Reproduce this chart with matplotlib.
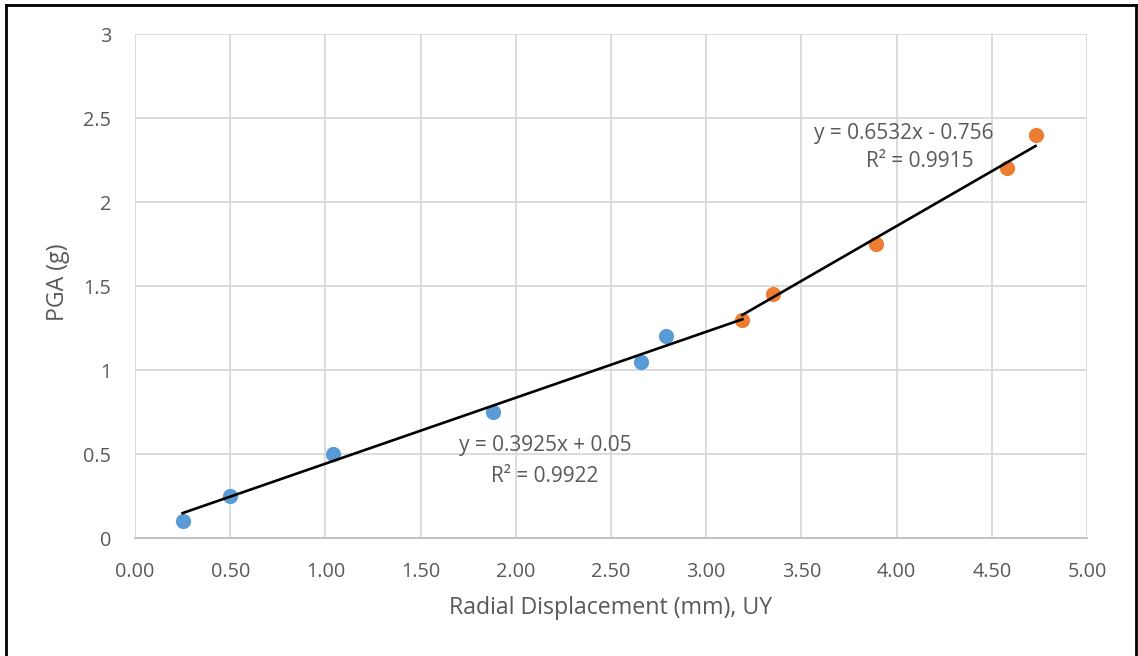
import matplotlib
matplotlib.use("Agg")
import matplotlib.pyplot as plt
import numpy as np
from matplotlib.lines import Line2D

# Data
x_blue = [0.25, 0.50, 1.04, 1.88, 2.66, 2.79]
y_blue = [0.10, 0.25, 0.50, 0.75, 1.05, 1.20]
x_orange = [3.19, 3.35, 3.89, 4.58, 4.73]
y_orange = [1.30, 1.45, 1.75, 2.20, 2.40]

# Trendline coefficients (from chart labels)
fit1_slope, fit1_icpt, fit1_r2 = 0.3925, 0.05, 0.9922
fit2_slope, fit2_icpt, fit2_r2 = 0.6532, -0.756, 0.9915
fit1_range = [0.25, 3.19]
fit2_range = [3.19, 4.73]

x_ticks = [0.0, 0.5, 1.0, 1.5, 2.0, 2.5, 3.0, 3.5, 4.0, 4.5, 5.0]
y_ticks = [0, 0.5, 1, 1.5, 2, 2.5, 3]
y_ticklabels = ["0", "0.5", "1", "1.5", "2", "2.5", "3"]

plt.rcParams['font.family'] = ['Open Sans', 'DejaVu Sans']
text_color = '#595959'
grid_color = '#d9d9d9'

fig = plt.figure(figsize=(11.38, 6.56), dpi=100)
ax = fig.add_axes([135/1138, 1-538/656, (1087-135)/1138, (538-34)/656])

ax.set_xlim(0, 5)
ax.set_ylim(0, 3)
ax.set_xticks(x_ticks)
ax.set_xticklabels([f"{v:.2f}" for v in x_ticks])
ax.set_yticks(y_ticks)
ax.set_yticklabels(y_ticklabels)
ax.grid(True, color=grid_color, linewidth=1.3)
ax.set_axisbelow(True)
for s in ['top', 'right', 'left']:
    ax.spines[s].set_visible(False)
ax.spines['bottom'].set_color('#bfbfbf')
ax.spines['bottom'].set_linewidth(1.3)
ax.tick_params(length=0, colors=text_color, labelsize=14.3, pad=17)

ax.scatter(x_blue, y_blue, s=120, color='#5B9BD5', zorder=3, linewidths=0)
ax.scatter(x_orange, y_orange, s=120, color='#ED7D31', zorder=3, linewidths=0)

xs1 = np.array(fit1_range)
ax.plot(xs1, fit1_slope*xs1 + fit1_icpt, color='black', linewidth=1.9, zorder=4)
xs2 = np.array(fit2_range)
ax.plot(xs2, fit2_slope*xs2 + fit2_icpt, color='black', linewidth=1.9, zorder=4)

ann_fs = 15.0
ax.text(2.153, 0.548, f"y = {fit1_slope}x + {fit1_icpt}", ha='center', va='center',
        fontsize=ann_fs, color=text_color, zorder=5)
ax.text(2.153, 0.369, f"R² = {fit1_r2}", ha='center', va='center',
        fontsize=ann_fs, color=text_color, zorder=5)
ax.text(4.04, 2.41, f"y = {fit2_slope}x - {abs(fit2_icpt)}", ha='center', va='center',
        fontsize=ann_fs, color=text_color, zorder=5)
ax.text(4.12, 2.244, f"R² = {fit2_r2}", ha='center', va='center',
        fontsize=ann_fs, color=text_color, zorder=5)

ax.set_xlabel("Radial Displacement (mm), UY", color=text_color, fontsize=16.7)
ax.set_ylabel("PGA (g)", color=text_color, fontsize=16.7)
ax.xaxis.set_label_coords(0.5, (538-596)/504)
ax.yaxis.set_label_coords((70-135)/952, 0.5 + (290-286)/504)

# figure border (left, top, right)
fig.add_artist(Line2D([6/1138, 6/1138], [0, 1-5/656], color='black', linewidth=2, transform=fig.transFigure))
fig.add_artist(Line2D([6/1138, 1136/1138], [1-5/656, 1-5/656], color='black', linewidth=2, transform=fig.transFigure))
fig.add_artist(Line2D([1136/1138, 1136/1138], [0, 1-5/656], color='black', linewidth=2, transform=fig.transFigure))

fig.savefig("out.png", dpi=100)
